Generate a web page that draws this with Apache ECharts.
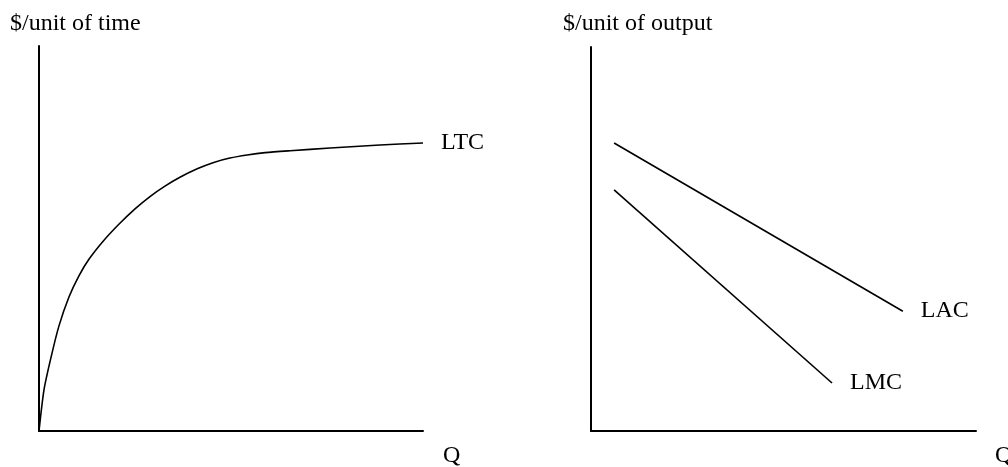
<!DOCTYPE html>
<html>
<head>
<meta charset="utf-8">
<script src="https://cdn.jsdelivr.net/npm/echarts@6/dist/echarts.min.js"></script>
<style>
  html, body { margin: 0; padding: 0; background: #fff; }
  #chart { width: 1008px; height: 467px; }
</style>
</head>
<body>
<div id="chart"></div>
<script>
// long-run total cost (left panel), Q vs $/unit of time
const ltcPoints = [
  [0, 0], [1.3, 10.7], [3.1, 19.0], [5.2, 27.3], [7.8, 34.8], [10.4, 40.3],
  [13.0, 44.6], [16.7, 49.3], [20.8, 53.7], [25.0, 57.7], [28.9, 60.9],
  [32.8, 63.6], [36.7, 65.9], [41.2, 68.1], [45.3, 69.7], [49.7, 70.9],
  [54.2, 71.7], [58.9, 72.3], [65.4, 72.8], [75.8, 73.5], [88.8, 74.3], [100, 74.8]
];
// right panel, Q vs $/unit of output
const lacPoints = [[6, 75], [81, 31.2]];
const lmcPoints = [[6, 62.8], [62.6, 12.5]];

const titles = ['$/unit of time', '$/unit of output'];
const qLabel = 'Q';

const font = '"Liberation Serif", "Times New Roman", serif';
const fs = 24;

const axisLine = { show: true, onZero: false, lineStyle: { color: '#000', width: 2 } };
function makeAxis(gridIndex) {
  return {
    type: 'value', gridIndex: gridIndex, min: 0, max: 100,
    axisLine: axisLine, axisTick: { show: false }, axisLabel: { show: false },
    splitLine: { show: false }
  };
}
function lineSeries(name, data, xi, smooth) {
  return {
    name: name, type: 'line', xAxisIndex: xi, yAxisIndex: xi,
    data: data, smooth: smooth, symbol: 'none', silent: true,
    lineStyle: { color: '#000', width: 1.6 },
    endLabel: {
      show: true, formatter: name, distance: 18,
      color: '#000', fontFamily: font, fontSize: fs
    }
  };
}
function textAt(str, x, y) {
  return { type: 'text', x: x, y: y, style: { text: str, font: fs + 'px ' + font, fill: '#000', textVerticalAlign: 'middle' } };
}

const chart = echarts.init(document.getElementById('chart'));
chart.setOption({
  animation: false,
  backgroundColor: '#fff',
  grid: [
    { left: 39, top: 46, width: 384, height: 385 },
    { left: 591, top: 47, width: 385, height: 384 }
  ],
  xAxis: [makeAxis(0), makeAxis(1)],
  yAxis: [makeAxis(0), makeAxis(1)],
  graphic: [
    textAt(titles[0], 10, 24),
    textAt(titles[1], 563, 24),
    textAt(qLabel, 443, 456),
    textAt(qLabel, 995, 456)
  ],
  series: [
    lineSeries('LTC', ltcPoints, 0, 0.25),
    lineSeries('LAC', lacPoints, 1, false),
    lineSeries('LMC', lmcPoints, 1, false)
  ]
});
</script>
</body>
</html>
